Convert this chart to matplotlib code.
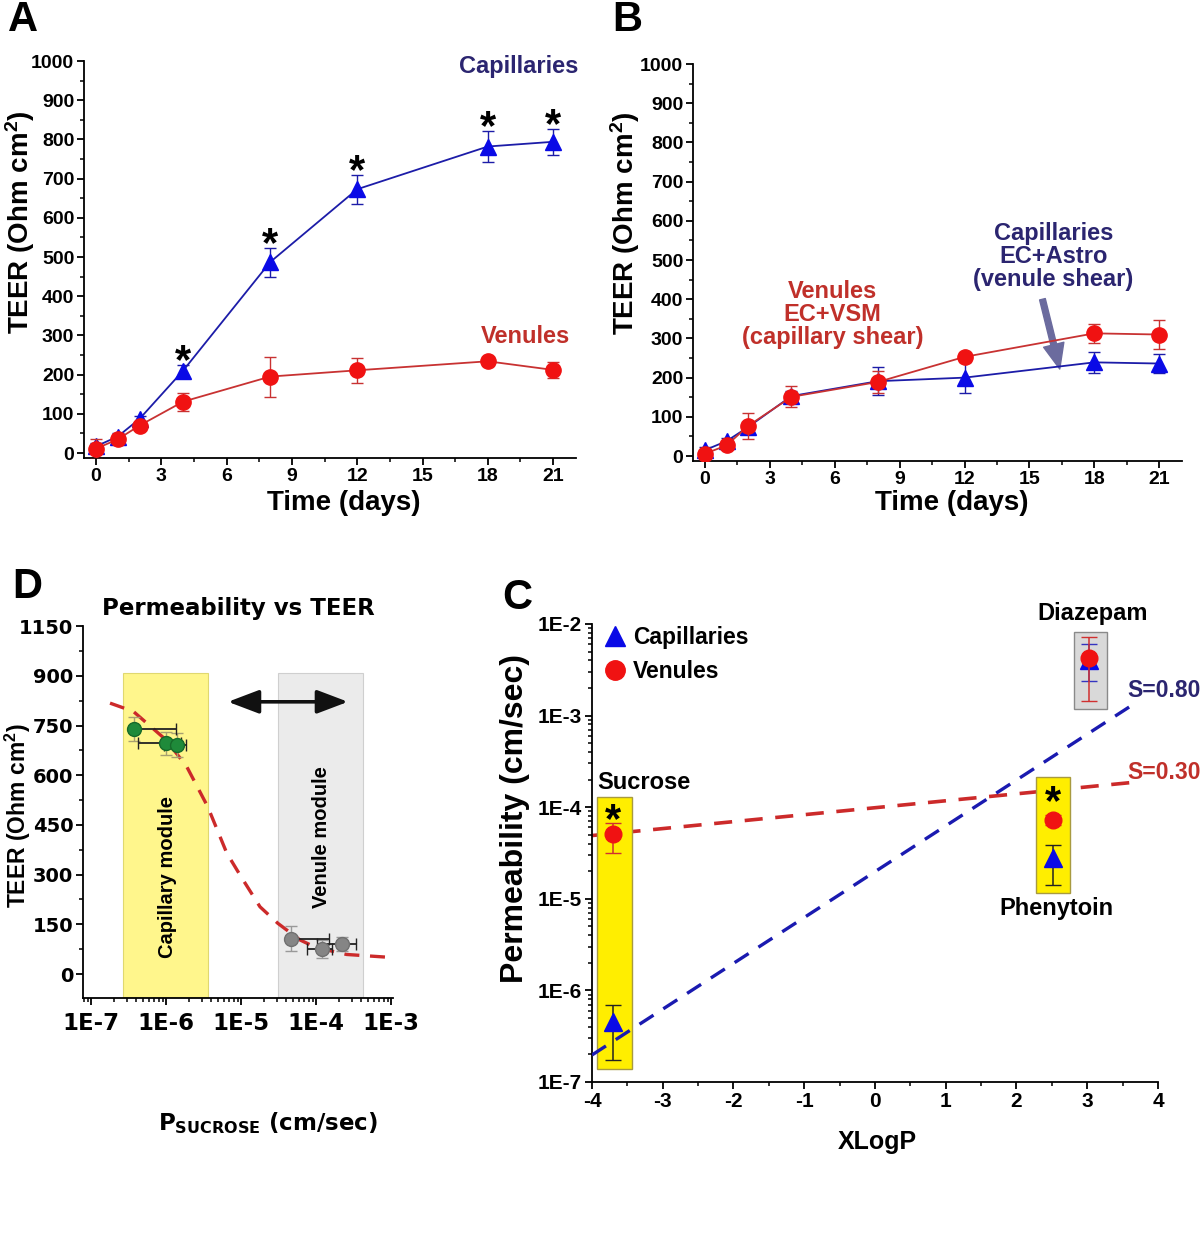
import numpy as np
import matplotlib.pyplot as plt
from matplotlib.patches import Rectangle
from matplotlib.lines import Line2D
from matplotlib.ticker import MultipleLocator, FixedLocator, FixedFormatter, LogLocator, FuncFormatter, NullFormatter

plt.rcParams['font.family'] = ['Liberation Sans', 'DejaVu Sans']
plt.rcParams['font.weight'] = 'bold'
plt.rcParams['axes.labelweight'] = 'bold'
plt.rcParams['axes.titleweight'] = 'bold'
plt.rcParams['axes.unicode_minus'] = False
plt.rcParams['mathtext.fontset'] = 'custom'
plt.rcParams['mathtext.rm'] = 'Liberation Sans:bold'
plt.rcParams['mathtext.bf'] = 'Liberation Sans:bold'
plt.rcParams['mathtext.it'] = 'Liberation Sans:bold:italic'
plt.rcParams['axes.linewidth'] = 1.3

# ---- data ----
days = [0, 1, 2, 4, 8, 12, 18, 21]

# A: capillaries vs venules TEER
capA = [17, 42, 87, 210, 487, 673, 782, 794]
capA_err = [8, 8, 8, 14, 37, 37, 39, 33]
venA = [11, 35, 70, 131, 195, 211, 234, 212]
venA_err = [26, 8, 12, 23, 51, 32, 11, 21]
starsA = [4, 8, 12, 18, 21]

# B: swapped shear
capB = [15, 38, 74, 153, 191, 200, 239, 236]
capB_err = [8, 8, 10, 14, 36, 40, 26, 25]
venB = [6, 27, 77, 151, 189, 253, 313, 310]
venB_err = [8, 8, 33, 27, 27, 13, 24, 37]

# D: permeability vs TEER
cap_p = [3.74e-7, 1.0e-6, 1.4e-6]
cap_teer = [740, 697, 692]
cap_p_lo = [0.0, 5.8e-7, 4.5e-7]
cap_p_hi = [1.0e-6, 5.8e-7, 4.5e-7]
cap_teer_err = [37, 35, 37]
ven_p = [4.64e-5, 1.2e-4, 2.22e-4]
ven_teer = [106, 75, 90]
ven_p_lo = [0.0, 4.4e-5, 1.19e-4]
ven_p_hi = [1.03e-4, 4.4e-5, 1.19e-4]
ven_teer_err = [38, 28, 22]
fit_p = [1.79e-7, 3.66e-7, 1.0e-6, 1.89e-6, 3.6e-6, 6.46e-6, 1.0e-5,
         1.79e-5, 3.1e-5, 6.1e-5, 1.0e-4, 2.56e-4, 1.0e-3]
fit_teer = [818, 793, 707, 626, 505, 365, 294, 203, 153, 103, 80, 59, 50]
cap_band = [2.67e-7, 3.63e-6]
ven_band = [3.1e-5, 4.2e-4]
band_teer = [-68, 908]

# C: permeability vs XLogP (sucrose, phenytoin, diazepam)
drugs = ['Sucrose', 'Phenytoin', 'Diazepam']
xlogp = [-3.70, 2.52, 3.02]
perm_cap = [4.5e-7, 2.8e-5, 4.0e-3]
perm_cap_lo = [1.72e-7, 1.41e-5, 2.36e-3]
perm_cap_hi = [6.97e-7, 3.87e-5, 5.97e-3]
perm_ven = [5.1e-5, 7.3e-5, 4.2e-3]
perm_ven_lo = [3.2e-5, 6.4e-5, 1.44e-3]
perm_ven_hi = [6.8e-5, 8.3e-5, 7.2e-3]
star_c_y = [9.1e-5, 1.43e-4]
fit_x = [-4.0, 3.6]
fit_cap = [1.97e-7, 1.25e-3]
fit_ven = [4.9e-5, 1.85e-4]
drug_boxes = [(-3.93, -3.43, 1.4e-7, 1.3e-4),
              (2.27, 2.76, 1.15e-5, 2.15e-4),
              (2.81, 3.28, 1.17e-3, 8.1e-3)]

blue_m = '#0a0ae6'
blue_l = '#1c1ca8'
red_m = '#f01212'
red_l = '#c83232'
navy_t = '#2b2570'
red_t = '#c0302a'


def style_axis(ax, size):
    for s in ['top', 'right']:
        ax.spines[s].set_visible(False)
    ax.tick_params(which='major', direction='out', length=5, width=1.3, labelsize=size, pad=2)
    ax.tick_params(which='minor', direction='out', length=3, width=1.1)


def bold_ticks(ax):
    for lab in ax.get_xticklabels() + ax.get_yticklabels():
        lab.set_fontweight('bold')


def star(ax, x, y):
    # asterisk glyph sits high in its box, pull it down a bit
    ax.annotate('*', xy=(x, y), xytext=(0, -7), textcoords='offset points',
                fontsize=30, ha='center', va='center', zorder=6)


def teer_panel(ax, cap, cap_err, ven, ven_err):
    ax.errorbar(days, cap, yerr=cap_err, color=blue_l, lw=1.3, marker='^', ms=11,
                mfc=blue_m, mec=blue_m, elinewidth=1.0, capsize=4.5, capthick=1.0, zorder=3)
    ax.errorbar(days, ven, yerr=ven_err, color=red_l, lw=1.3, marker='o', ms=11,
                mfc=red_m, mec=red_m, elinewidth=1.0, capsize=4.5, capthick=1.0, zorder=4)
    ax.set_xlim(-0.55, 22.05)
    ax.set_ylim(-12.8, 1000)
    ax.xaxis.set_major_locator(FixedLocator([0, 3, 6, 9, 12, 15, 18, 21]))
    ax.xaxis.set_minor_locator(MultipleLocator(1.5))
    ax.yaxis.set_major_locator(MultipleLocator(100))
    ax.yaxis.set_minor_locator(MultipleLocator(50))
    style_axis(ax, 14)
    ax.set_xlabel('Time (days)', fontsize=20)
    ax.set_ylabel(r'TEER (Ohm cm$^{2}$)', fontsize=20)


fig = plt.figure(figsize=(12, 12.59), dpi=100)

# ---- A ----
axA = fig.add_axes([0.07, 0.6362, 0.41, 0.3153])
teer_panel(axA, capA, capA_err, venA, venA_err)
for d in starsA:
    i = days.index(d)
    star(axA, d, capA[i] + capA_err[i] + 32)
axA.text(22.15, 985, 'Capillaries', color=navy_t, fontsize=17, ha='right', va='center')
axA.text(21.8, 298, 'Venules', color=red_t, fontsize=17, ha='right', va='center')
axA.xaxis.set_label_coords(0.528, -0.08)
axA.yaxis.set_label_coords(-0.096, 0.594)
bold_ticks(axA)

# ---- B ----
axB = fig.add_axes([0.5775, 0.6338, 0.4075, 0.3153])
teer_panel(axB, capB, capB_err, venB, venB_err)
axB.text(5.9, 360, 'Venules\nEC+VSM\n(capillary shear)', color=red_t, fontsize=17,
         ha='center', va='center', linespacing=1.0)
axB.text(16.1, 508, 'Capillaries\nEC+Astro\n(venule shear)', color=navy_t, fontsize=17,
         ha='center', va='center', linespacing=1.0)
axB.annotate('', xy=(16.4, 222), xytext=(15.6, 400),
             arrowprops=dict(arrowstyle='simple,head_width=1.0,head_length=1.2,tail_width=0.28',
                             color='#6b6b9e', shrinkA=0, shrinkB=0, mutation_scale=15))
axB.xaxis.set_label_coords(0.53, -0.073)
axB.yaxis.set_label_coords(-0.105, 0.6)
bold_ticks(axB)

# ---- D ----
axD = fig.add_axes([0.0692, 0.2073, 0.2583, 0.2955])
axD.set_xscale('log')
axD.add_patch(Rectangle((cap_band[0], band_teer[0]), cap_band[1] - cap_band[0],
                        band_teer[1] - band_teer[0], facecolor='#fff68c', edgecolor='#e0d870',
                        lw=0.8, zorder=0))
axD.add_patch(Rectangle((ven_band[0], band_teer[0]), ven_band[1] - ven_band[0],
                        band_teer[1] - band_teer[0], facecolor='#ebebeb', edgecolor='#cfcfcf',
                        lw=0.8, zorder=0))
axD.plot(fit_p, fit_teer, color='#cc2a2a', lw=2.4, ls=(0, (4.5, 3.2)), zorder=2)
axD.errorbar(cap_p, cap_teer, yerr=cap_teer_err, fmt='none', ecolor='#a8a070', elinewidth=1.0,
             capsize=4, zorder=3)
axD.errorbar(cap_p, cap_teer, xerr=[cap_p_lo, cap_p_hi], fmt='o', color='#1f8a3a', ms=10,
             mec='#166a2a', ecolor='#222222', elinewidth=1.3, capsize=4, zorder=4)
axD.errorbar(ven_p, ven_teer, yerr=ven_teer_err, fmt='none', ecolor='#999999', elinewidth=1.0,
             capsize=4, zorder=3)
axD.errorbar(ven_p, ven_teer, xerr=[ven_p_lo, ven_p_hi], fmt='o', color='#858585', ms=10,
             mec='#707070', ecolor='#222222', elinewidth=1.3, capsize=4, zorder=4)
axD.annotate('', xy=(2.67e-4, 822), xytext=(6.7e-6, 822),
             arrowprops=dict(arrowstyle='<|-|>,head_length=0.95,head_width=0.36',
                             color='#111111', lw=2.6, shrinkA=0, shrinkB=0, mutation_scale=20))
axD.text(1.03e-6, 293, 'Capillary module', rotation=90, fontsize=14.5, ha='center', va='center')
axD.text(1.2e-4, 414, 'Venule module', rotation=90, fontsize=14.5, ha='center', va='center')
axD.set_xlim(10 ** -7.107, 10 ** -2.973)
axD.set_ylim(-72.5, 1051)
d_ticks = [0, 150, 300, 450, 600, 750, 900, 1050]
d_labels = ['0', '150', '300', '450', '600', '750', '900', '1150']
axD.yaxis.set_major_locator(FixedLocator(d_ticks))
axD.yaxis.set_major_formatter(FixedFormatter(d_labels))
axD.yaxis.set_minor_locator(MultipleLocator(75))
axD.xaxis.set_major_locator(LogLocator(base=10, numticks=12))
axD.xaxis.set_minor_locator(LogLocator(base=10, subs=np.arange(2, 10), numticks=12))
axD.xaxis.set_minor_formatter(NullFormatter())
axD.xaxis.set_major_formatter(FuncFormatter(lambda v, p: '1E%d' % round(np.log10(v))))
style_axis(axD, 16.5)
axD.tick_params(axis='both', which='major', labelfontfamily='DejaVu Sans')
axD.tick_params(axis='x', which='major', pad=5)
axD.tick_params(axis='y', which='major', labelsize=14)
axD.set_title('Permeability vs TEER', fontsize=16.5, family='DejaVu Sans', fontweight='bold', pad=8)
axD.set_xlabel(r'P$_{\mathbf{SUCROSE}}$ (cm/sec)', fontsize=16.5, family='DejaVu Sans',
               math_fontfamily='dejavusans')
axD.set_ylabel(r'TEER (Ohm cm$^{2}$)', fontsize=16.5)
axD.xaxis.set_label_coords(0.597, -0.30)
axD.yaxis.set_label_coords(-0.16, 0.49)
bold_ticks(axD)

# ---- C ----
axC = fig.add_axes([0.4933, 0.1406, 0.4717, 0.3638])
axC.set_yscale('log')
for x0, x1, y0, y1 in drug_boxes[:2]:
    axC.add_patch(Rectangle((x0, y0), x1 - x0, y1 - y0, facecolor='#ffee00', edgecolor='#a89a40',
                            lw=1.0, zorder=2))
x0, x1, y0, y1 = drug_boxes[2]
axC.add_patch(Rectangle((x0, y0), x1 - x0, y1 - y0, facecolor='#d9d9d9', edgecolor='#8a8a8a',
                        lw=1.0, zorder=2))
axC.plot(fit_x, fit_ven, color='#cc2a2a', lw=2.6, ls=(0, (5, 3.5)), zorder=1)
axC.plot(fit_x, fit_cap, color='#1a1ab0', lw=2.4, ls=(0, (5, 3.5)), zorder=3)
cap_yerr = [np.array(perm_cap) - np.array(perm_cap_lo), np.array(perm_cap_hi) - np.array(perm_cap)]
ven_yerr = [np.array(perm_ven) - np.array(perm_ven_lo), np.array(perm_ven_hi) - np.array(perm_ven)]
cap_ecol = ['#222222', '#222222', '#3434c0']
for i in range(3):
    axC.errorbar(xlogp[i], perm_cap[i], yerr=[[cap_yerr[0][i]], [cap_yerr[1][i]]], fmt='^',
                 color=blue_m, ms=13, ecolor=cap_ecol[i], elinewidth=1.1, capsize=6, zorder=4)
for i in range(3):
    axC.errorbar(xlogp[i], perm_ven[i], yerr=[[ven_yerr[0][i]], [ven_yerr[1][i]]], fmt='o',
                 color=red_m, ms=12, ecolor='#d03030', elinewidth=1.1, capsize=6, zorder=5)
for i in range(2):
    star(axC, xlogp[i], star_c_y[i])
axC.text(-3.26, 1.84e-4, 'Sucrose', fontsize=17, ha='center', va='center')
axC.text(2.56, 7.9e-6, 'Phenytoin', fontsize=17, ha='center', va='center')
axC.text(3.08, 1.29e-2, 'Diazepam', fontsize=17, ha='center', va='center', clip_on=False)
axC.text(3.56, 1.9e-3, 'S=0.80', fontsize=16.5, color=navy_t, ha='left', va='center', clip_on=False)
axC.text(3.56, 2.42e-4, 'S=0.30', fontsize=16.5, color=red_t, ha='left', va='center', clip_on=False)
handles = [Line2D([], [], marker='^', color=blue_m, ls='none', ms=15),
           Line2D([], [], marker='o', color=red_m, ls='none', ms=14)]
axC.legend(handles, ['Capillaries', 'Venules'], loc='upper left', bbox_to_anchor=(0.02, 0.995),
           frameon=False, fontsize=16.5, handlelength=1.0, handletextpad=0.3, labelspacing=0.45,
           borderpad=0, borderaxespad=0)
axC.set_xlim(-4, 4)
axC.set_ylim(1e-7, 1e-2)
axC.xaxis.set_major_locator(MultipleLocator(1))
axC.xaxis.set_minor_locator(MultipleLocator(0.5))
axC.yaxis.set_major_locator(LogLocator(base=10, numticks=12))
axC.yaxis.set_minor_locator(LogLocator(base=10, subs=np.arange(2, 10), numticks=12))
axC.yaxis.set_minor_formatter(NullFormatter())
axC.yaxis.set_major_formatter(FuncFormatter(lambda v, p: '1E%d' % round(np.log10(v))))
style_axis(axC, 15)
axC.set_xlabel('XLogP', fontsize=18)
axC.set_ylabel('Permeability (cm/sec)', fontsize=23)
axC.xaxis.set_label_coords(0.505, -0.105)
axC.yaxis.set_label_coords(-0.11, 0.576)
bold_ticks(axC)

# panel letters
fig.text(23 / 1200, 1 - 20 / 1259, 'A', fontsize=30, ha='center', va='center')
fig.text(627 / 1200, 1 - 20 / 1259, 'B', fontsize=30, ha='center', va='center')
fig.text(27 / 1200, 1 - 587 / 1259, 'D', fontsize=30, ha='center', va='center')
fig.text(517 / 1200, 1 - 598 / 1259, 'C', fontsize=30, ha='center', va='center')

fig.savefig('out.png', dpi=100)
